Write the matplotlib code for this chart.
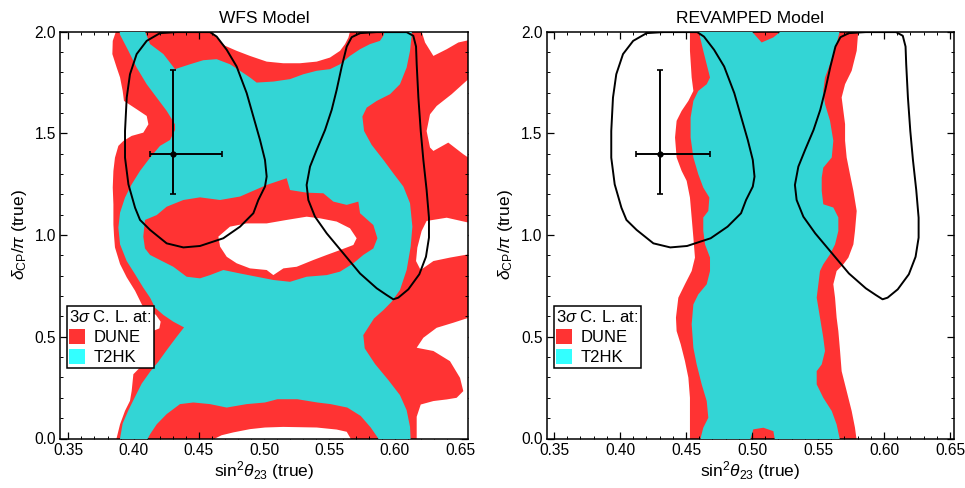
import matplotlib
matplotlib.use("Agg")
import matplotlib.pyplot as plt
from matplotlib.patches import Polygon, Patch
from matplotlib.ticker import MultipleLocator, FormatStrFormatter

plt.rcParams['font.family'] = ['Liberation Sans', 'DejaVu Sans']
plt.rcParams['mathtext.fontset'] = 'custom'
plt.rcParams['mathtext.rm'] = 'Liberation Sans'
plt.rcParams['mathtext.it'] = 'Liberation Sans:italic'
plt.rcParams['mathtext.bf'] = 'Liberation Sans:bold'

# ---------------- data (sin^2 theta23, delta_CP/pi) ----------------
titles = ["WFS Model", "REVAMPED Model"]
legend_labels = ["DUNE", "T2HK"]

# best-fit point with asymmetric errors
bf_x, bf_y = 0.430, 1.40
bf_xerr = [0.0175, 0.038]
bf_yerr = [0.20, 0.41]

# allowed-region contours (black), same in both panels
contour_left = [(0.4202, 1.992), (0.4330, 1.997), (0.4585, 1.997), (0.4636, 1.975), (0.4713, 1.910),
                (0.4789, 1.828), (0.4866, 1.697), (0.4917, 1.582), (0.4968, 1.467), (0.5006, 1.369),
                (0.5019, 1.287), (0.5006, 1.238), (0.4955, 1.172), (0.4917, 1.107), (0.4815, 1.041),
                (0.4687, 0.984), (0.4508, 0.946), (0.4381, 0.939), (0.4253, 0.959), (0.4126, 1.025),
                (0.4049, 1.074), (0.4011, 1.134), (0.3960, 1.249), (0.3934, 1.380), (0.3934, 1.511),
                (0.3947, 1.675), (0.3972, 1.790), (0.4023, 1.889), (0.4100, 1.954), (0.4202, 1.992)]
contour_right = [(0.5734, 1.992), (0.5862, 1.997), (0.6091, 1.997), (0.6142, 1.979), (0.6163, 1.926),
                 (0.6168, 1.839), (0.6181, 1.675), (0.6199, 1.511), (0.6219, 1.369), (0.6244, 1.221),
                 (0.6262, 1.085), (0.6262, 0.987), (0.6239, 0.893), (0.6188, 0.807), (0.6104, 0.733),
                 (0.6027, 0.692), (0.5989, 0.684), (0.5938, 0.705), (0.5862, 0.738), (0.5734, 0.811),
                 (0.5606, 0.910), (0.5479, 1.008), (0.5389, 1.090), (0.5338, 1.172), (0.5325, 1.246),
                 (0.5351, 1.336), (0.5402, 1.418), (0.5466, 1.516), (0.5517, 1.615), (0.5555, 1.713),
                 (0.5594, 1.828), (0.5632, 1.926), (0.5670, 1.972), (0.5734, 1.992)]

# ---- WFS model: DUNE 3 sigma region (outer envelope) ----
wfs_dune = [(0.3870, 2.01), (0.3840, 1.954), (0.3837, 1.889), (0.3870, 1.823), (0.3896, 1.774),
            (0.3916, 1.708), (0.3926, 1.659), (0.4023, 1.618), (0.4100, 1.585), (0.4113, 1.544),
            (0.4074, 1.503), (0.3985, 1.487), (0.3921, 1.462), (0.3883, 1.438), (0.3857, 1.380),
            (0.3845, 1.315), (0.3840, 1.233), (0.3845, 1.151), (0.3845, 1.052), (0.3850, 0.995),
            (0.3857, 0.939), (0.3896, 0.857), (0.3947, 0.792), (0.4011, 0.726), (0.4074, 0.644),
            (0.4138, 0.623), (0.4171, 0.607), (0.4207, 0.574), (0.4197, 0.541), (0.4100, 0.516),
            (0.4049, 0.349), (0.3998, 0.316), (0.3985, 0.234), (0.3972, 0.185), (0.3934, 0.136),
            (0.3896, 0.070), (0.3865, -0.01), (0.66, -0.01), (0.66, 2.01)]
# regions excluded by DUNE inside the envelope
wfs_dune_gap_top = [(0.4598, 2.01), (0.4598, 2.0), (0.4636, 1.970), (0.4700, 1.930), (0.4789, 1.905),
                    (0.4891, 1.880), (0.5019, 1.852), (0.5146, 1.844), (0.5274, 1.844), (0.5402, 1.852),
                    (0.5504, 1.872), (0.5581, 1.905), (0.5619, 1.938), (0.5645, 1.970), (0.5657, 2.0),
                    (0.5657, 2.01)]
wfs_dune_gap_tr = [(0.6206, 2.01), (0.6206, 2.0), (0.6232, 1.946), (0.6296, 1.880), (0.6398, 1.913),
                   (0.6487, 1.946), (0.6564, 1.957), (0.66, 1.957), (0.66, 2.01)]
wfs_dune_gap_r1 = [(0.66, 1.766), (0.6564, 1.766), (0.6436, 1.692), (0.6321, 1.634), (0.6270, 1.593),
                   (0.6244, 1.511), (0.6270, 1.430), (0.6296, 1.413), (0.6410, 1.454), (0.6525, 1.397),
                   (0.6564, 1.380), (0.66, 1.380)]
wfs_dune_gap_r2 = [(0.66, 1.061), (0.6564, 1.061), (0.6398, 1.085), (0.6244, 1.069), (0.6206, 1.020),
                   (0.6173, 0.938), (0.6163, 0.872), (0.6198, 0.828), (0.6296, 0.872), (0.6423, 0.889),
                   (0.6564, 0.905), (0.66, 0.905)]
wfs_dune_gap_r3 = [(0.66, 0.593), (0.6564, 0.593), (0.6449, 0.569), (0.6321, 0.544), (0.6219, 0.495),
                   (0.6168, 0.446), (0.6296, 0.430), (0.6423, 0.380), (0.6500, 0.298), (0.6525, 0.233),
                   (0.6474, 0.200), (0.6398, 0.192), (0.6296, 0.184), (0.6199, 0.167), (0.6168, 0.107),
                   (0.6168, -0.01), (0.66, -0.01)]
wfs_dune_gap_bot = [(0.4623, -0.01), (0.4623, 0.0), (0.4674, 0.016), (0.4764, 0.030), (0.4891, 0.046),
                    (0.5006, 0.054), (0.5146, 0.057), (0.5402, 0.054), (0.5555, 0.044), (0.5632, 0.033),
                    (0.5662, 0.0), (0.5662, -0.01)]
wfs_dune_gap_mid = [(0.4649, 0.992), (0.4738, 1.041), (0.4866, 1.057), (0.5019, 1.057), (0.5172, 1.074),
                    (0.5325, 1.090), (0.5427, 1.082), (0.5555, 1.066), (0.5657, 1.033), (0.5708, 0.984),
                    (0.5683, 0.951), (0.5581, 0.926), (0.5479, 0.902), (0.5376, 0.877), (0.5249, 0.844),
                    (0.5147, 0.836), (0.5070, 0.803), (0.5019, 0.828), (0.4891, 0.836), (0.4789, 0.861),
                    (0.4713, 0.893), (0.4662, 0.943)]

# ---- WFS model: T2HK 3 sigma region (outer envelope) ----
wfs_t2hk = [(0.3891, 2.01), (0.4087, 2.01), (0.4087, 2.0), (0.4126, 1.938), (0.4228, 1.889),
            (0.4317, 1.815), (0.4432, 1.839), (0.4534, 1.859), (0.4636, 1.864), (0.4738, 1.839),
            (0.4815, 1.807), (0.4891, 1.774), (0.4942, 1.749), (0.5070, 1.754), (0.5198, 1.766),
            (0.5300, 1.790), (0.5402, 1.807), (0.5504, 1.815), (0.5581, 1.839), (0.5657, 1.880),
            (0.5734, 1.913), (0.5810, 1.938), (0.5887, 1.954), (0.5913, 1.979), (0.5925, 2.01),
            (0.6130, 2.01), (0.6130, 1.984), (0.6117, 1.905), (0.6091, 1.823), (0.6040, 1.741),
            (0.5964, 1.692), (0.5862, 1.659), (0.5785, 1.626), (0.5752, 1.582), (0.5765, 1.511),
            (0.5823, 1.443), (0.5913, 1.369), (0.5989, 1.303), (0.6066, 1.238), (0.6117, 1.156),
            (0.6135, 1.041), (0.6122, 0.943), (0.6091, 0.828), (0.6040, 0.730), (0.5976, 0.672),
            (0.5913, 0.631), (0.5841, 0.590), (0.5759, 0.508), (0.5770, 0.443), (0.5849, 0.366),
            (0.5951, 0.287), (0.6040, 0.213), (0.6091, 0.139), (0.6117, 0.057), (0.6122, -0.01),
            (0.5874, -0.01), (0.5874, 0.0), (0.5816, 0.054), (0.5739, 0.111), (0.5637, 0.152),
            (0.5509, 0.169), (0.5407, 0.177), (0.5254, 0.193), (0.5101, 0.193), (0.5006, 0.177),
            (0.4866, 0.169), (0.4713, 0.152), (0.4585, 0.169), (0.4457, 0.177), (0.4355, 0.169),
            (0.4253, 0.120), (0.4177, 0.070), (0.4126, 0.021), (0.4100, -0.01), (0.3896, -0.01),
            (0.3896, 0.0), (0.3916, 0.074), (0.3960, 0.139), (0.4011, 0.205), (0.4062, 0.270),
            (0.4126, 0.328), (0.4189, 0.377), (0.4253, 0.434), (0.4330, 0.500), (0.4386, 0.546),
            (0.4304, 0.574), (0.4228, 0.607), (0.4164, 0.643), (0.4126, 0.692), (0.4074, 0.741),
            (0.4011, 0.807), (0.3947, 0.872), (0.3896, 0.954), (0.3883, 1.036), (0.3896, 1.110),
            (0.3934, 1.184), (0.3985, 1.249), (0.4049, 1.315), (0.4126, 1.380), (0.4202, 1.438),
            (0.4279, 1.467), (0.4317, 1.516), (0.4317, 1.544), (0.4253, 1.610), (0.4177, 1.675),
            (0.4100, 1.741), (0.4023, 1.823), (0.3960, 1.905), (0.3896, 1.984)]
# region inside the T2HK envelope excluded by T2HK but allowed by DUNE
wfs_t2hk_gap = [(0.4087, 1.074), (0.4177, 1.098), (0.4253, 1.139), (0.4381, 1.172), (0.4508, 1.185),
                (0.4662, 1.172), (0.4815, 1.189), (0.5019, 1.246), (0.5172, 1.279), (0.5198, 1.221),
                (0.5325, 1.208), (0.5453, 1.205), (0.5530, 1.164), (0.5632, 1.148), (0.5721, 1.164),
                (0.5734, 1.107), (0.5836, 1.049), (0.5867, 0.984), (0.5836, 0.934), (0.5759, 0.902),
                (0.5683, 0.861), (0.5581, 0.820), (0.5479, 0.803), (0.5325, 0.795), (0.5198, 0.770),
                (0.5070, 0.779), (0.4942, 0.795), (0.4815, 0.811), (0.4687, 0.828), (0.4585, 0.803),
                (0.4508, 0.787), (0.4406, 0.795), (0.4304, 0.844), (0.4202, 0.877), (0.4126, 0.902),
                (0.4087, 0.934), (0.4074, 0.992)]

# ---- REVAMPED model ----
rev_dune = [(0.4530, 2.01), (0.4530, 1.905), (0.4543, 1.774), (0.4556, 1.708), (0.4518, 1.659),
            (0.4467, 1.610), (0.4429, 1.561), (0.4417, 1.479), (0.4429, 1.381), (0.4467, 1.315),
            (0.4505, 1.266), (0.4530, 1.184), (0.4543, 1.086), (0.4556, 0.987), (0.4568, 0.889),
            (0.4543, 0.823), (0.4492, 0.758), (0.4442, 0.692), (0.4424, 0.594), (0.4429, 0.528),
            (0.4460, 0.463), (0.4492, 0.381), (0.4518, 0.299), (0.4530, 0.200), (0.4530, 0.102),
            (0.4530, -0.01),
            (0.5793, -0.01), (0.5780, 0.053), (0.5755, 0.135), (0.5717, 0.233), (0.5679, 0.331),
            (0.5667, 0.430), (0.5654, 0.528), (0.5641, 0.594), (0.5629, 0.692), (0.5616, 0.758),
            (0.5641, 0.823), (0.5692, 0.856), (0.5730, 0.889), (0.5768, 0.954), (0.5780, 1.020),
            (0.5793, 1.118), (0.5768, 1.217), (0.5742, 1.299), (0.5717, 1.381), (0.5705, 1.463),
            (0.5705, 1.545), (0.5692, 1.610), (0.5679, 1.676), (0.5705, 1.741), (0.5755, 1.807),
            (0.5793, 1.905), (0.5806, 2.01)]
rev_t2hk = [(0.4593, 2.01), (0.4631, 1.905), (0.4682, 1.774), (0.4657, 1.741), (0.4593, 1.708),
            (0.4556, 1.659), (0.4535, 1.577), (0.4535, 1.479), (0.4556, 1.381), (0.4593, 1.299),
            (0.4631, 1.233), (0.4677, 1.184), (0.4669, 1.118), (0.4631, 1.086), (0.4631, 1.020),
            (0.4644, 0.954), (0.4682, 0.889), (0.4682, 0.823), (0.4657, 0.758), (0.4593, 0.708),
            (0.4556, 0.659), (0.4543, 0.561), (0.4556, 0.446), (0.4581, 0.364), (0.4619, 0.266),
            (0.4657, 0.184), (0.4669, 0.102), (0.4631, 0.053), (0.4606, -0.01),
            (0.4985, -0.01), (0.5010, 0.045), (0.5086, 0.053), (0.5162, 0.036), (0.5174, -0.01),
            (0.5667, -0.01), (0.5641, 0.069), (0.5604, 0.135), (0.5540, 0.200), (0.5490, 0.266),
            (0.5490, 0.331), (0.5528, 0.364), (0.5553, 0.430), (0.5540, 0.495), (0.5515, 0.594),
            (0.5490, 0.692), (0.5515, 0.823), (0.5540, 0.856), (0.5591, 0.905), (0.5629, 0.954),
            (0.5654, 1.020), (0.5654, 1.086), (0.5616, 1.135), (0.5540, 1.151), (0.5528, 1.217),
            (0.5528, 1.282), (0.5540, 1.331), (0.5604, 1.381), (0.5616, 1.463), (0.5591, 1.561),
            (0.5553, 1.643), (0.5540, 1.708), (0.5553, 1.774), (0.5591, 1.840), (0.5641, 1.938),
            (0.5667, 2.01),
            (0.5237, 2.01), (0.5162, 1.971), (0.5073, 1.946), (0.4985, 2.01)]

xlims = [(0.3436, 0.6561), (0.3445, 0.6530)]

RED = '#FF3333'
CYAN = '#33D5D5'
CYAN_LEG = '#33FFFF'

fig = plt.figure(figsize=(9.65, 4.88), dpi=100)
ax1 = fig.add_axes([60 / 965, 49.5 / 488, 408 / 965, 407 / 488])
ax2 = fig.add_axes([546.7 / 965, 49.5 / 488, 407.3 / 965, 407 / 488])


def fill(ax, pts, color, z):
    ax.add_patch(Polygon(pts, closed=True, facecolor=color, edgecolor='none', zorder=z))


# WFS panel
fill(ax1, wfs_dune, RED, 1)
for gap in [wfs_dune_gap_top, wfs_dune_gap_tr, wfs_dune_gap_r1, wfs_dune_gap_r2,
            wfs_dune_gap_r3, wfs_dune_gap_bot]:
    fill(ax1, gap, 'white', 2)
fill(ax1, wfs_t2hk, CYAN, 3)
fill(ax1, wfs_t2hk_gap, RED, 4)
fill(ax1, wfs_dune_gap_mid, 'white', 5)

# REVAMPED panel
fill(ax2, rev_dune, RED, 1)
fill(ax2, rev_t2hk, CYAN, 3)

for i, ax in enumerate([ax1, ax2]):
    for c in [contour_left, contour_right]:
        ax.plot([p[0] for p in c], [p[1] for p in c], color='black', lw=1.4, zorder=6)
    ax.errorbar([bf_x], [bf_y], xerr=[[bf_xerr[0]], [bf_xerr[1]]],
                yerr=[[bf_yerr[0]], [bf_yerr[1]]], fmt='o', color='black', ms=3.5,
                elinewidth=1.4, capsize=2.2, capthick=1.2, zorder=7)
    ax.set_xlim(*xlims[i])
    ax.set_ylim(0, 2.0)
    ax.xaxis.set_major_locator(MultipleLocator(0.05))
    ax.xaxis.set_minor_locator(MultipleLocator(0.01))
    ax.yaxis.set_major_locator(MultipleLocator(0.5))
    ax.yaxis.set_minor_locator(MultipleLocator(0.1))
    ax.xaxis.set_major_formatter(FormatStrFormatter('%.2f'))
    ax.yaxis.set_major_formatter(FormatStrFormatter('%.1f'))
    ax.tick_params(which='both', direction='in', top=True, right=True, labelsize=11.2, pad=3)
    ax.tick_params(which='major', length=5, width=0.9)
    ax.tick_params(which='minor', length=2.5, width=0.7)
    for s in ax.spines.values():
        s.set_linewidth(1.1)
    ax.set_title(titles[i], fontsize=12.5, pad=6)
    ax.set_xlabel(r'sin$^2\theta_{23}$ (true)', fontsize=12.5, labelpad=1)
    ax.set_ylabel(r'$\delta_{\mathrm{CP}}/\pi$ (true)', fontsize=12.5, labelpad=4)
    handles = [Patch(facecolor=RED, edgecolor='none'), Patch(facecolor=CYAN_LEG, edgecolor='none')]
    leg = ax.legend(handles, legend_labels, title=r'3$\sigma$ C. L. at:', loc='upper left',
                    bbox_to_anchor=(0.017, 0.325), fontsize=12, title_fontsize=12,
                    frameon=True, fancybox=False, framealpha=1, edgecolor='black',
                    handlelength=0.95, handleheight=1.0, handletextpad=0.5,
                    borderpad=0.15, labelspacing=0.25, borderaxespad=0, alignment='left')
    leg.get_frame().set_linewidth(1.1)
    leg.set_zorder(10)

fig.savefig('out.png', dpi=100)
